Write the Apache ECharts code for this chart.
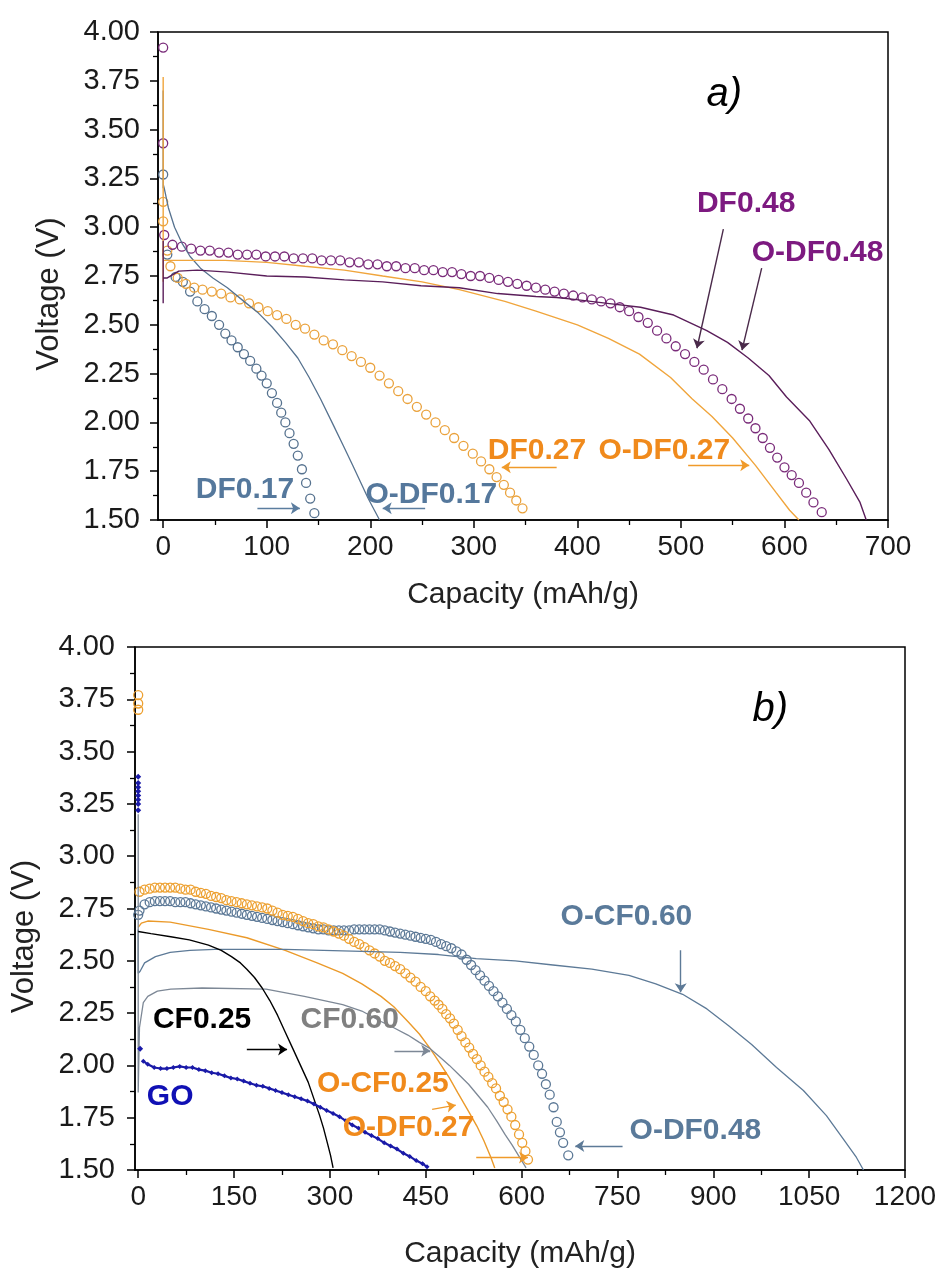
<!DOCTYPE html>
<html><head><meta charset="utf-8">
<script src="https://cdn.jsdelivr.net/npm/echarts@6/dist/echarts.min.js"></script>
<style>html,body{margin:0;padding:0;background:#fff}#c{width:943px;height:1270px}</style>
</head><body><div id="c"></div>
<script>
// ---------- tick values ----------
const aXTicks=[0,100,200,300,400,500,600,700];
const aXMinor=[50,150,250,350,450,550,650];
const bXTicks=[0,150,300,450,600,750,900,1050,1200];
const bXMinor=[75,225,375,525,675,825,975,1125];

// ---------- panel a) ----------
const aDF017=[[0,3.27],[4,2.86],[12,2.745],[19,2.72],[26,2.67],[33,2.62],[40,2.58],[47,2.545],[54,2.50],[60,2.455],[66,2.42],[72,2.385],[78,2.35],[84,2.315],[90,2.275],[95,2.24],[100,2.20],[105,2.15],[110,2.10],[114,2.05],[118,2.00],[122,1.945],[126,1.89],[130,1.83],[134,1.76],[138,1.69],[142,1.61],[146,1.535]];
const aODF017=[[0,3.20],[0,3.70],[0,3.22],[1,3.20],[5,3.10],[11,3.00],[18,2.92],[26,2.85],[36,2.79],[48,2.74],[62,2.69],[78,2.62],[92,2.56],[105,2.49],[118,2.41],[130,2.33],[141,2.23],[152,2.12],[164,1.99],[174,1.88],[183,1.78],[191,1.69],[198,1.61],[204,1.55],[209,1.50]];
const aDF027=[[0,3.13],[0,3.03],[4,2.88],[7,2.80],[14,2.74],[22,2.71],[30,2.69],[38,2.68],[47,2.67],[56,2.66],[65,2.64],[74,2.63],[83,2.61],[92,2.59],[101,2.57],[110,2.55],[119,2.53],[128,2.50],[137,2.48],[146,2.45],[155,2.42],[164,2.40],[173,2.37],[182,2.34],[191,2.31],[200,2.28],[209,2.24],[218,2.20],[227,2.16],[236,2.12],[245,2.08],[254,2.04],[263,2.00],[272,1.96],[281,1.92],[290,1.88],[299,1.84],[307,1.80],[315,1.76],[322,1.72],[329,1.68],[335,1.64],[341,1.60],[347,1.56]];
const aODF027=[[0,2.72],[0,3.77],[0,2.83],[3,2.83],[20,2.83],[60,2.83],[100,2.82],[137,2.80],[175,2.78],[212,2.75],[250,2.72],[286,2.68],[330,2.62],[360,2.57],[400,2.50],[430,2.43],[460,2.35],[490,2.23],[511,2.12],[530,2.03],[550,1.92],[572,1.78],[592,1.64],[605,1.55],[614,1.50]];
const aDF048=[[0,3.92],[0,3.43],[1,2.96],[9,2.91],[18,2.90],[27,2.89],[36,2.88],[45,2.88],[54,2.87],[63,2.87],[72,2.86],[81,2.86],[90,2.86],[99,2.85],[108,2.85],[117,2.85],[126,2.84],[135,2.84],[144,2.84],[153,2.83],[162,2.83],[171,2.83],[180,2.82],[189,2.82],[198,2.81],[207,2.81],[216,2.80],[225,2.80],[234,2.79],[243,2.79],[252,2.78],[261,2.78],[270,2.77],[279,2.77],[288,2.76],[297,2.75],[306,2.75],[315,2.74],[324,2.73],[333,2.72],[342,2.71],[351,2.70],[360,2.69],[369,2.68],[378,2.67],[387,2.66],[396,2.65],[405,2.64],[414,2.63],[423,2.62],[432,2.61],[441,2.59],[450,2.57],[459,2.54],[468,2.51],[477,2.47],[486,2.43],[495,2.39],[504,2.35],[513,2.31],[522,2.27],[531,2.22],[540,2.17],[549,2.12],[557,2.07],[565,2.02],[572,1.97],[579,1.92],[586,1.87],[593,1.82],[600,1.77],[607,1.73],[614,1.69],[621,1.64],[628,1.59],[636,1.54]];
const aODF048=[[0,2.61],[0,2.93],[0,2.74],[4,2.74],[15,2.775],[33,2.78],[63,2.77],[100,2.75],[137,2.745],[175,2.73],[212,2.72],[249,2.70],[286,2.69],[323,2.66],[360,2.645],[380,2.64],[397,2.63],[429,2.61],[461,2.59],[493,2.55],[525,2.47],[545,2.41],[565,2.33],[585,2.24],[602,2.13],[624,2.01],[643,1.86],[660,1.71],[673,1.59],[679,1.50]];

// annotations a) : [text, x, y]
const aLabels=[['DF0.17',79,1.655],['O-DF0.17',259,1.63],['DF0.27',361,1.855],['O-DF0.27',484,1.855],['DF0.48',563,3.12],['O-DF0.48',632,2.87],['a)',542,3.68]];
// arrows a) : [x1,y1,x2,y2]
const aArrows=[[91,1.56,132,1.56],[253,1.56,212,1.56],[380,1.77,327,1.77],[507,1.78,566,1.78],[541,2.99,515.5,2.38],[578,2.79,559,2.37]];

// ---------- panel b) ----------
const bODF27=[[0,3.77],[0,3.73],[0,3.70],[2,2.83],[10,2.84],[18,2.845],[26,2.85],[34,2.85],[42,2.85],[50,2.85],[58,2.85],[66,2.845],[74,2.84],[82,2.84],[90,2.83],[98,2.825],[106,2.82],[114,2.81],[122,2.805],[130,2.80],[138,2.79],[146,2.785],[154,2.78],[162,2.775],[170,2.77],[178,2.765],[186,2.76],[194,2.755],[202,2.75],[210,2.74],[218,2.73],[226,2.72],[234,2.715],[242,2.71],[250,2.70],[258,2.69],[266,2.68],[274,2.675],[282,2.665],[290,2.66],[298,2.65],[306,2.64],[314,2.63],[322,2.62],[330,2.605],[338,2.59],[346,2.58],[354,2.565],[362,2.55],[370,2.535],[378,2.52],[386,2.50],[394,2.49],[402,2.475],[410,2.46],[418,2.44],[426,2.42],[434,2.40],[442,2.375],[450,2.355],[457,2.33],[464,2.31],[470,2.29],[476,2.27],[482,2.245],[488,2.225],[494,2.20],[500,2.17],[506,2.14],[512,2.11],[518,2.085],[524,2.055],[530,2.03],[536,2.00],[542,1.97],[548,1.945],[554,1.915],[560,1.89],[566,1.855],[572,1.825],[578,1.79],[584,1.755],[590,1.715],[596,1.67],[601,1.63],[606,1.59],[610,1.55]];
const bODF48=[[0,2.72],[2,2.74],[10,2.77],[18,2.78],[26,2.785],[34,2.785],[42,2.785],[50,2.785],[58,2.78],[66,2.78],[74,2.78],[82,2.775],[90,2.77],[98,2.765],[106,2.76],[114,2.755],[122,2.75],[130,2.745],[138,2.74],[146,2.735],[154,2.73],[162,2.725],[170,2.72],[178,2.715],[186,2.71],[194,2.705],[202,2.70],[210,2.695],[218,2.69],[226,2.685],[234,2.68],[242,2.675],[250,2.67],[258,2.665],[266,2.66],[274,2.655],[282,2.65],[290,2.65],[298,2.645],[306,2.645],[314,2.645],[322,2.645],[330,2.645],[338,2.65],[346,2.65],[354,2.65],[362,2.65],[370,2.65],[378,2.65],[386,2.645],[394,2.64],[402,2.635],[410,2.63],[418,2.625],[426,2.62],[434,2.615],[442,2.61],[450,2.605],[458,2.60],[466,2.59],[474,2.58],[482,2.57],[490,2.56],[498,2.545],[506,2.53],[514,2.505],[521,2.48],[528,2.455],[535,2.43],[542,2.405],[549,2.38],[556,2.355],[563,2.33],[570,2.30],[577,2.27],[584,2.24],[591,2.21],[598,2.17],[605,2.13],[612,2.09],[619,2.05],[626,2.00],[632,1.96],[638,1.91],[644,1.86],[650,1.80],[655,1.73],[660,1.68],[665,1.63],[673,1.57]];
const bOCF25=[[0,2.66],[5,2.68],[15,2.69],[50,2.685],[110,2.65],[170,2.61],[230,2.55],[280,2.49],[320,2.44],[350,2.39],[380,2.33],[400,2.28],[422,2.21],[440,2.15],[457,2.08],[470,2.02],[487,1.94],[500,1.87],[517,1.78],[530,1.71],[541,1.64],[552,1.56],[558,1.51]];
const bOCF60=[[0,2.65],[0,2.44],[3,2.45],[10,2.49],[27,2.52],[50,2.54],[81,2.55],[120,2.555],[170,2.555],[230,2.555],[290,2.55],[350,2.545],[410,2.54],[470,2.53],[529,2.51],[590,2.50],[649,2.48],[710,2.46],[768,2.43],[810,2.39],[852,2.34],[890,2.27],[924,2.19],[960,2.10],[999,1.99],[1041,1.88],[1077,1.76],[1103,1.65],[1124,1.56],[1135,1.50]];
const bCF60=[[0,3.20],[0,1.87],[2,2.18],[8,2.30],[15,2.33],[30,2.355],[51,2.365],[100,2.37],[200,2.365],[260,2.33],[320,2.29],[350,2.26],[380,2.21],[400,2.18],[422,2.145],[440,2.11],[457,2.08],[472,2.04],[487,2.00],[502,1.955],[517,1.91],[532,1.855],[547,1.80],[561,1.735],[574,1.67],[585,1.62],[595,1.57],[602,1.535],[607,1.51]];
const bCF25=[[0,2.64],[20,2.63],[51,2.615],[80,2.60],[110,2.575],[130,2.55],[146,2.52],[160,2.49],[170,2.46],[182,2.42],[194,2.37],[206,2.31],[218,2.24],[230,2.16],[242,2.08],[254,2.00],[266,1.92],[275,1.84],[284,1.76],[290,1.70],[296,1.63],[301,1.57],[305,1.51]];
const bGOspike=[[0,3.38],[0,3.35],[0,3.33],[0,3.31],[0,3.29],[0,3.27],[0,3.25],[0,3.22],[3,2.08]];
const bGO=[[8,2.02],[15,2.005],[25,1.99],[35,1.985],[45,1.985],[55,1.99],[65,1.995],[75,1.99],[85,1.99],[95,1.98],[105,1.975],[115,1.965],[125,1.96],[135,1.95],[145,1.94],[155,1.935],[165,1.925],[175,1.915],[185,1.905],[195,1.90],[205,1.89],[215,1.88],[225,1.87],[235,1.86],[245,1.85],[255,1.84],[265,1.83],[275,1.815],[285,1.80],[295,1.785],[305,1.77],[315,1.755],[325,1.735],[335,1.715],[345,1.70],[355,1.68],[365,1.665],[375,1.65],[385,1.63],[395,1.615],[405,1.60],[415,1.58],[425,1.565],[435,1.545],[445,1.53],[452,1.515]];

const bLabels=[['O-CF0.60',764,2.71],['O-DF0.48',872,1.69],['CF0.25',100,2.22],['CF0.60',331,2.22],['GO',50,1.85],['O-CF0.25',383,1.91],['O-DF0.27',423,1.70],['b)',989,3.70]];
const bArrows=[[170,2.076,233,2.076],[401,2.07,457,2.07],[849,2.55,849,2.35],[758,1.615,684,1.615],[529,1.56,610,1.56],[460,1.79,497,1.81]];

// ---------- styles ----------
const F='Liberation Sans, Arial, sans-serif';
const aLabelColors={'DF0.17':'#55789c','O-DF0.17':'#55789c','DF0.27':'#f08a1c','O-DF0.27':'#f08a1c','DF0.48':'#7d1a80','O-DF0.48':'#7d1a80','a)':'#000'};
const aArrowColors=['#5b7d9f','#5b7d9f','#f09a2a','#f09a2a','#4a2a4a','#4a2a4a'];
const bLabelColors={'O-CF0.60':'#5a7a9a','O-DF0.48':'#5a7a9a','CF0.25':'#000','CF0.60':'#808080','GO':'#1010b4','O-CF0.25':'#f08a1c','O-DF0.27':'#f08a1c','b)':'#000'};
const bArrowColors=['#000','#7d8896','#5d7a97','#5d7a97','#f09a2a','#f09a2a'];

function xMain(g,max,ticks,gap){
  return {type:'value',gridIndex:g,min:-5,max:max,name:'Capacity (mAh/g)',nameLocation:'middle',nameGap:gap,
    nameTextStyle:{fontFamily:F,fontSize:30,color:'#222'},
    axisLine:{show:true,onZero:false,lineStyle:{color:'#000',width:1.5}},
    axisTick:{show:true,length:8,customValues:ticks,lineStyle:{color:'#000',width:1.5}},
    axisLabel:{customValues:ticks,fontFamily:F,fontSize:28,color:'#1a1a1a',margin:13,formatter:v=>String(v)},
    splitLine:{show:false}};
}
function xMinor(g,max,ticks){
  return {type:'value',gridIndex:g,min:-5,max:max,position:'bottom',
    axisLine:{show:false,onZero:false},
    axisTick:{show:true,length:5,customValues:ticks,lineStyle:{color:'#000',width:1.3}},
    axisLabel:{show:false},splitLine:{show:false}};
}
function yAx(g,margin,pad){
  return {type:'value',gridIndex:g,min:1.5,max:4,interval:0.25,name:'Voltage (V)',nameLocation:'middle',nameGap:pad[0],
    nameTextStyle:{fontFamily:F,fontSize:31,color:'#222',padding:[0,pad[1],0,0]},
    axisLine:{show:true,onZero:false,lineStyle:{color:'#000',width:1.5}},
    axisTick:{show:true,length:8,lineStyle:{color:'#000',width:1.5}},
    minorTick:{show:true,splitNumber:2,length:5,lineStyle:{color:'#000',width:1.3}},
    axisLabel:{fontFamily:F,fontSize:29,color:'#1a1a1a',margin:margin,formatter:v=>v.toFixed(2)},
    splitLine:{show:false},minorSplitLine:{show:false}};
}
function circles(xi,yi,d,c,z){
  return {type:'scatter',xAxisIndex:xi,yAxisIndex:yi,data:d,symbol:'circle',symbolSize:9,z:z||2,
    itemStyle:{color:'rgba(255,255,255,0)',borderColor:c,borderWidth:1.3,opacity:1},silent:true};
}
function line(xi,yi,d,c,w,z){
  return {type:'line',xAxisIndex:xi,yAxisIndex:yi,data:d,showSymbol:false,symbol:'none',z:z||3,
    lineStyle:{color:c,width:w||1.3},silent:true};
}
function labels(xi,yi,list,colors){
  return {type:'scatter',xAxisIndex:xi,yAxisIndex:yi,symbol:'circle',symbolSize:1,z:10,silent:true,
    itemStyle:{color:'rgba(0,0,0,0)',opacity:1},
    data:list.map(l=>{
      const it=/\)$/.test(l[0]);
      return {name:l[0],value:[l[1],l[2]],label:{show:true,position:'inside',formatter:'{b}',opacity:1,
        textBorderWidth:0,textShadowBlur:0,
        fontFamily:F,fontSize:it?40:30,fontWeight:it?'normal':'bold',fontStyle:it?'italic':'normal',color:colors[l[0]]}};
    })};
}
function arrows(xi,yi,list,colors){
  return list.map((a,i)=>({type:'lines',coordinateSystem:'cartesian2d',xAxisIndex:xi,yAxisIndex:yi,z:9,silent:true,
    symbol:['none','arrow'],symbolSize:9,
    lineStyle:{color:colors[i],width:1.4,opacity:1,curveness:0},
    data:[{coords:[[a[0],a[1]],[a[2],a[3]]]}]}));
}

const series=[
  // panel a
  circles(0,0,aDF017,'#56728f'),
  line(0,0,aODF017,'#56728f',1.3),
  circles(0,0,aDF027,'#eaa23c'),
  line(0,0,aODF027,'#f0a53c',1.4),
  circles(0,0,aDF048,'#7a2c7a'),
  line(0,0,aODF048,'#5a1e5a',1.4),
  labels(0,0,aLabels,aLabelColors),
  ...arrows(0,0,aArrows,aArrowColors),
  // panel b
  circles(2,1,bODF48,'#5b7896'),
  circles(2,1,bODF27,'#eda030'),
  line(2,1,bOCF25,'#eb9a2a',1.4),
  line(2,1,bOCF60,'#5d7a97',1.3),
  line(2,1,bCF60,'#7d8896',1.3),
  line(2,1,bCF25,'#000',1.4),
  {type:'scatter',xAxisIndex:2,yAxisIndex:1,data:bGOspike,symbol:'diamond',symbolSize:6,z:4,silent:true,itemStyle:{color:'#1a1aa8',opacity:1}},
  {type:'line',xAxisIndex:2,yAxisIndex:1,data:bGO,symbol:'diamond',symbolSize:5,showSymbol:true,z:4,silent:true,
    itemStyle:{color:'#1a1aa8'},lineStyle:{color:'#1a1aa8',width:2.2}},
  labels(2,1,bLabels,bLabelColors),
  ...arrows(2,1,bArrows,bArrowColors)
];

const chart=echarts.init(document.getElementById('c'),null,{renderer:'canvas'});
chart.setOption({
  animation:false,backgroundColor:'#fff',
  grid:[
    {left:158,top:32,width:730,height:488,show:true,borderColor:'#000',borderWidth:1.5,backgroundColor:'transparent'},
    {left:135,top:647,width:770,height:524,show:true,borderColor:'#000',borderWidth:1.5,backgroundColor:'transparent'}
  ],
  xAxis:[xMain(0,700,aXTicks,60),xMinor(0,700,aXMinor),xMain(1,1200,bXTicks,69),xMinor(1,1200,bXMinor)],
  yAxis:[yAx(0,18,[93,36]),yAx(1,20,[95,56])],
  series:series
});
</script></body></html>
